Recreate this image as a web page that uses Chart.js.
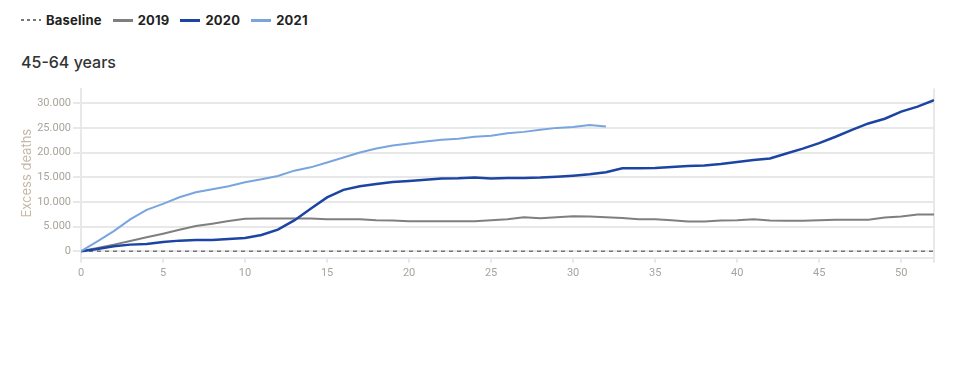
<!DOCTYPE html>
<html>
<head>
<meta charset="utf-8">
<script src="https://cdn.jsdelivr.net/npm/chart.js@4.4.0/dist/chart.umd.min.js"></script>
<style>
  body { margin: 0; background: #fff; font-family: Inter, Roboto, 'Noto Sans', sans-serif; }
  .legend { position: absolute; left: 21px; top: 12px; display: flex; align-items: center; font-size: 13px; font-weight: 700; color: #222; letter-spacing: 0.2px; }
  .item { display: flex; align-items: center; margin-right: 11px; }
  .swatch { width: 20px; height: 3px; margin-right: 5px; }
  .dashed { height: 2px; background: repeating-linear-gradient(90deg, #777 0 3px, transparent 3px 6px); }
  .title { position: absolute; left: 21px; top: 52px; font-size: 16px; font-weight: 500; color: #333; }
  #wrap { position: absolute; left: 0; top: 80px; width: 969px; height: 204px; }
</style>
</head>
<body>
<div class="legend">
  <div class="item"><span class="swatch dashed"></span>Baseline</div>
  <div class="item"><span class="swatch" style="background:#7f7f7f"></span>2019</div>
  <div class="item"><span class="swatch" style="background:#1c45a3"></span>2020</div>
  <div class="item"><span class="swatch" style="background:#79a5df"></span>2021</div>
</div>
<div class="title">45-64 years</div>
<div id="wrap"><canvas id="chart"></canvas></div>
<script>
// weeks of the year, cumulative excess deaths per year
const weeks = Array.from({ length: 53 }, (_, i) => i);
const baseline = weeks.map(() => 0);
const deaths2019 = [0, 670, 1340, 2080, 2820, 3560, 4370, 5110, 5580, 6110, 6590, 6650, 6650, 6650, 6650, 6500, 6500, 6500, 6300, 6250, 6100, 6100, 6100, 6100, 6100, 6300, 6500, 6900, 6700, 6900, 7100, 7050, 6900, 6750, 6500, 6500, 6300, 6050, 6050, 6250, 6300, 6500, 6250, 6200, 6200, 6300, 6400, 6400, 6400, 6850, 7050, 7450, 7450];
const deaths2020 = [0, 470, 1000, 1340, 1480, 1880, 2150, 2280, 2300, 2480, 2690, 3290, 4370, 6250, 8600, 10900, 12430, 13170, 13640, 14040, 14250, 14510, 14720, 14780, 14920, 14720, 14850, 14850, 14920, 15120, 15320, 15590, 16000, 16800, 16800, 16870, 17070, 17270, 17400, 17670, 18080, 18480, 18780, 19800, 20800, 21900, 23200, 24600, 25900, 26860, 28300, 29300, 30600];
const deaths2021 = [0, 2000, 4090, 6450, 8400, 9600, 10950, 11960, 12560, 13170, 13980, 14580, 15260, 16330, 17000, 18000, 19010, 20020, 20830, 21430, 21840, 22240, 22580, 22780, 23180, 23390, 23920, 24190, 24600, 25000, 25200, 25600, 25260];
const xTicks = [0, 5, 10, 15, 20, 25, 30, 35, 40, 45, 50, 52];
const yTicks = [0, 5000, 10000, 15000, 20000, 25000, 30000];

const gridColor = '#e8e8e8';
const tickColor = '#a9a39b';
const points = vals => vals.map((v, i) => ({ x: weeks[i], y: v }));
const fmt = v => String(v).replace(/\B(?=(\d{3})+(?!\d))/g, '.');

new Chart(document.getElementById('chart').getContext('2d'), {
  type: 'line',
  data: {
    datasets: [
      { label: '2021', data: points(deaths2021), borderColor: '#79a5df', borderWidth: 2 },
      { label: '2020', data: points(deaths2020), borderColor: '#1c45a3', borderWidth: 2.5 },
      { label: '2019', data: points(deaths2019), borderColor: '#7f7f7f', borderWidth: 2 },
      { label: 'Baseline', data: points(baseline), borderColor: '#777', borderWidth: 1.5, borderDash: [4, 4] }
    ]
  },
  options: {
    responsive: true,
    maintainAspectRatio: false,
    animation: false,
    elements: { point: { radius: 0 }, line: { tension: 0, fill: false } },
    layout: { padding: { left: 15, right: 35, top: 7, bottom: 0 } },
    plugins: { legend: { display: false }, tooltip: { enabled: false } },
    scales: {
      x: {
        type: 'linear', min: 0, max: 52,
        afterBuildTicks: s => { s.ticks = xTicks.map(v => ({ value: v })); },
        grid: { color: c => (c.tick && c.tick.value === 52 ? gridColor : 'transparent'), tickColor: gridColor, lineWidth: 2, tickLength: 5 },
        border: { color: gridColor, width: 2 },
        ticks: { color: tickColor, font: { size: 11, family: 'Roboto' }, padding: 4, maxRotation: 0, autoSkip: false, callback: v => (v === 52 ? '' : v) }
      },
      y: {
        min: -1330, max: 32960,
        afterBuildTicks: s => { s.ticks = yTicks.map(v => ({ value: v })); },
        afterFit: s => { s.width = 66; },
        grid: { color: gridColor, lineWidth: 2, tickLength: 8 },
        border: { color: gridColor, width: 2 },
        ticks: { color: tickColor, font: { size: 11, family: 'Roboto' }, padding: 2, callback: v => fmt(v) },
        title: { display: true, text: 'Excess deaths', color: '#c6b8a8', font: { size: 13, family: 'Inter' } }
      }
    }
  }
});
</script>
</body>
</html>
